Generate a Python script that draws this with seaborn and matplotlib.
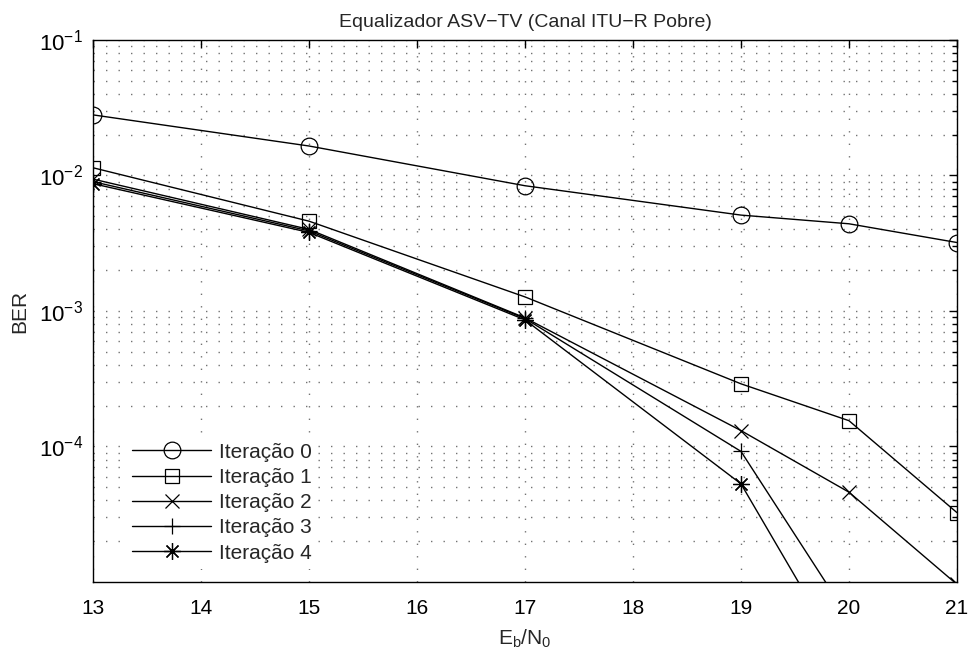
import pandas as pd
import numpy as np
import seaborn as sns
from matplotlib import pyplot as plt
from matplotlib import ticker

# Eb/N0 (dB) e BER
ebn0 = [13, 15, 17, 19, 20, 21]
ber_it0 = [2.8e-2, 1.65e-2, 8.4e-3, 5.1e-3, 4.4e-3, 3.2e-3]
ber_it1 = [1.14e-2, 4.6e-3, 1.27e-3, 2.9e-4, 1.55e-4, 3.25e-5]
ber_it2 = [9.4e-3, 4.0e-3, 8.9e-4, 1.31e-4, 4.6e-5, 9.6e-6]
ber_it3 = [9.0e-3, 3.9e-3, 8.8e-4, 9.2e-5, 5.4e-6]
ber_it4 = [8.7e-3, 3.8e-3, 8.6e-4, 5.3e-5, 2.3e-6]

labels = ['Iteração 0', 'Iteração 1', 'Iteração 2', 'Iteração 3', 'Iteração 4']
markers = ['o', 's', 'x', '+', (8, 2, 0)]  # asterisco estilo MATLAB
msizes = [12, 10.5, 10, 12, 12]

sns.set_style("white")
plt.rcParams['font.family'] = ['Liberation Sans', 'DejaVu Sans']
plt.rcParams['mathtext.fontset'] = 'custom'
plt.rcParams['mathtext.rm'] = 'Liberation Sans'
plt.rcParams['mathtext.it'] = 'Liberation Sans:italic'
plt.rcParams['axes.unicode_minus'] = True

fig = plt.figure(figsize=(9.74, 6.52), dpi=100)
ax = fig.add_axes([0.0955, 0.1074, 0.887, 0.8313])

series = [ber_it0, ber_it1, ber_it2, ber_it3, ber_it4]
for ber, lab, mk, ms in zip(series, labels, markers, msizes):
    df = pd.DataFrame({'EbN0': ebn0[:len(ber)], 'BER': ber})
    sns.lineplot(data=df, x='EbN0', y='BER', ax=ax, color='black', lw=1.0,
                 marker=mk, markersize=ms, mfc='none', mec='black', mew=0.9,
                 label=lab, clip_on=True)

ax.set_yscale('log')
ax.set_xlim(13, 21)
ax.set_ylim(1e-5, 1e-1)
ax.set_xticks(range(13, 22))
ax.yaxis.set_major_locator(ticker.FixedLocator([1e-4, 1e-3, 1e-2, 1e-1]))
ax.yaxis.set_major_formatter(ticker.LogFormatterMathtext())
ax.yaxis.set_minor_locator(ticker.LogLocator(base=10, subs=np.arange(2, 10), numticks=20))
ax.yaxis.set_minor_formatter(ticker.NullFormatter())

# grade pontilhada estilo MATLAB
ax.grid(True, which='major', axis='x', color='0.45', linestyle=(0, (1, 8)), lw=1.0)
ax.grid(True, which='both', axis='y', color='0.45', linestyle=(0, (1, 8)), lw=1.0)

for s in ax.spines.values():
    s.set_visible(True)
    s.set_color('black')
    s.set_linewidth(1.0)
ax.tick_params(which='both', direction='in', top=True, right=True, colors='black')
ax.tick_params(which='major', length=6, width=1.0)
ax.tick_params(which='minor', length=3.5, width=1.0)
ax.tick_params(axis='x', pad=12, labelsize=15)
ax.tick_params(axis='y', pad=7, labelsize=16)

ax.set_title('Equalizador ASV−TV (Canal ITU−R Pobre)', fontsize=14, pad=9)
ax.set_xlabel(r'$\mathregular{E_b/N_0}$', fontsize=15, labelpad=7)
ax.set_ylabel('BER', fontsize=15, labelpad=7)

leg = ax.legend(loc='lower left', bbox_to_anchor=(0.026, 0.005), fontsize=15,
                frameon=True, fancybox=False, handlelength=3.8, handletextpad=0.35,
                labelspacing=0.3, borderpad=0.3)
leg.get_frame().set_edgecolor('none')
leg.get_frame().set_facecolor('white')
leg.get_frame().set_alpha(1)

fig.savefig('out.png', dpi=100)
